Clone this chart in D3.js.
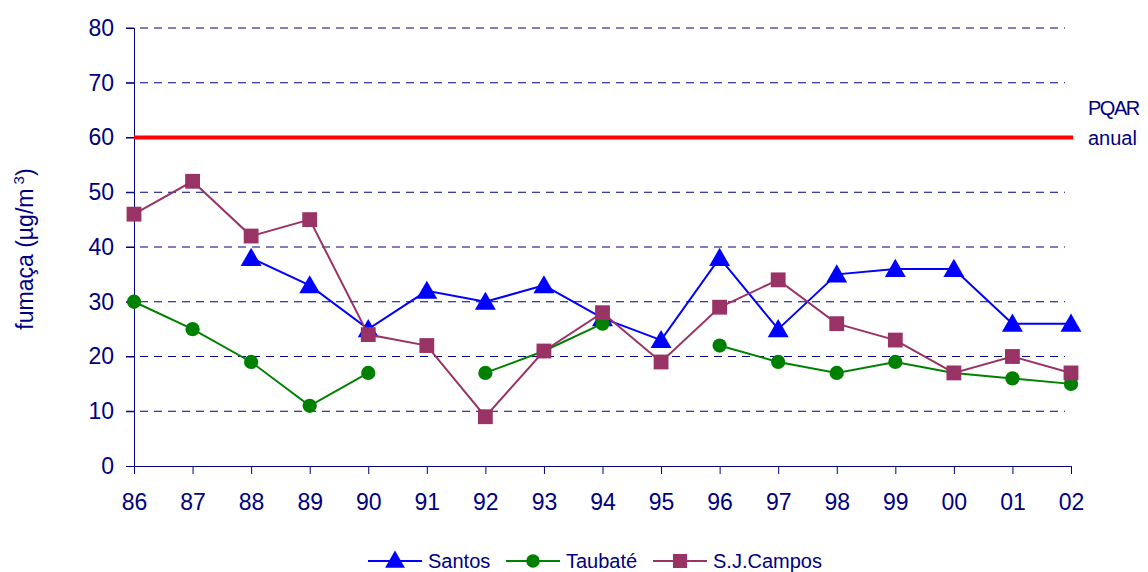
<!DOCTYPE html>
<html>
<head>
<meta charset="utf-8">
<script src="https://cdn.jsdelivr.net/npm/d3@7"></script>
<style>
  body { margin: 0; background: #fff; }
  svg { display: block; font-family: "Liberation Sans", Arial, sans-serif; }
</style>
</head>
<body>
<script>
// data
var years = ["86","87","88","89","90","91","92","93","94","95","96","97","98","99","00","01","02"];
var santos   = [null, null, 38, 33, 25, 32, 30, 33, 27, 23, 38, 25, 35, 36, 36, 26, 26];
var taubate  = [30, 25, 19, 11, 17, null, 17, 21, 26, null, 22, 19, 17, 19, 17, 16, 15];
var sjcampos = [46, 52, 42, 45, 24, 22, 9, 21, 28, 19, 29, 34, 26, 23, 17, 20, 17];
var yTicks = [0, 10, 20, 30, 40, 50, 60, 70, 80];
var pqar = 60;

var W = 1148, H = 572;
var margin = {top: 28, left: 134};
var width = 1071 - margin.left, height = 466 - margin.top;
var navy = "#000080";

var svg = d3.select("body").append("svg")
    .attr("width", W)
    .attr("height", H);

svg.append("rect").attr("width", W).attr("height", H).attr("fill", "#fff");

var g = svg.append("g")
    .attr("transform", "translate(" + margin.left + "," + margin.top + ")");

var x = d3.scalePoint().domain(years).range([0, width]);
var y = d3.scaleLinear().domain([0, 80]).range([height, 0]);

// gridlines (dashed)
g.selectAll(".grid")
    .data(yTicks.filter(function(d) { return d > 0; }))
  .enter().append("line")
    .attr("x1", -8).attr("x2", width - 6)
    .attr("y1", function(d) { return y(d); })
    .attr("y2", function(d) { return y(d); })
    .attr("stroke", navy)
    .attr("stroke-width", 1)
    .attr("stroke-dasharray", "8,6");

// y axis
var yAxis = g.append("g")
    .call(d3.axisLeft(y).tickValues(yTicks).tickSize(8).tickPadding(12));
yAxis.select(".domain").attr("stroke", navy).attr("d", "M0.5," + y(0) + "V" + y(80));
yAxis.selectAll(".tick line").attr("stroke", navy);
yAxis.selectAll(".tick text")
    .attr("fill", navy)
    .attr("font-size", "23px")
    .attr("font-family", "Liberation Sans, Arial, sans-serif");

// x axis
var xAxis = g.append("g")
    .attr("transform", "translate(0," + height + ")")
    .call(d3.axisBottom(x).tickSize(8).tickPadding(20));
xAxis.select(".domain").attr("stroke", navy).attr("d", "M0," + 0.5 + "H" + width);
xAxis.selectAll(".tick line").attr("stroke", navy).attr("y1", 0);
xAxis.selectAll(".tick text")
    .attr("fill", navy)
    .attr("font-size", "23px")
    .attr("font-family", "Liberation Sans, Arial, sans-serif");

// PQAR line
g.append("line")
    .attr("x1", 0).attr("x2", width + 2)
    .attr("y1", y(pqar)).attr("y2", y(pqar))
    .attr("stroke", "#ff0000")
    .attr("stroke-width", 4);

g.append("text")
    .attr("x", width + 17).attr("y", y(pqar) - 23)
    .attr("fill", navy).attr("font-size", "20px")
    .attr("letter-spacing", "-1.5px")
    .text("PQAR");
g.append("text")
    .attr("x", width + 17).attr("y", y(pqar) + 7)
    .attr("fill", navy).attr("font-size", "20px")
    .text("anual");

// y axis label
var ylab = svg.append("text")
    .attr("transform", "translate(33," + 249 + ") rotate(-90)")
    .attr("text-anchor", "middle")
    .attr("fill", navy)
    .attr("font-size", "23px");
ylab.append("tspan").text("fumaça (µg/m");
ylab.append("tspan").attr("dy", "-9").attr("font-size", "15px").text(" 3");
ylab.append("tspan").attr("dy", "9").text(")");

var series = [
  {name: "Santos", values: santos, color: "#0000ff", shape: d3.symbolTriangle, size: 190},
  {name: "Taubaté", values: taubate, color: "#008000", shape: d3.symbolCircle, size: 160},
  {name: "S.J.Campos", values: sjcampos, color: "#993366", shape: d3.symbolSquare, size: 220}
];

var line = d3.line()
    .defined(function(d) { return d.v != null; })
    .x(function(d) { return x(d.year); })
    .y(function(d) { return y(d.v); });

series.forEach(function(s) {
  var pts = years.map(function(yr, i) { return {year: yr, v: s.values[i]}; });
  g.append("path")
      .datum(pts)
      .attr("fill", "none")
      .attr("stroke", s.color)
      .attr("stroke-width", 2)
      .attr("d", line);
  g.selectAll(null)
      .data(pts.filter(function(d) { return d.v != null; }))
    .enter().append("path")
      .attr("d", d3.symbol().type(s.shape).size(s.size))
      .attr("transform", function(d) {
        var dy = s.shape === d3.symbolTriangle ? 2 : 0;
        return "translate(" + x(d.year) + "," + (y(d.v) + dy) + ")";
      })
      .attr("fill", s.color);
});

// legend
var legX = [368, 506, 653];
var legend = svg.append("g").attr("transform", "translate(0,561)");
series.forEach(function(s, i) {
  var lg = legend.append("g").attr("transform", "translate(" + legX[i] + ",0)");
  lg.append("line").attr("x1", 0).attr("x2", 54).attr("y1", 0).attr("y2", 0)
    .attr("stroke", s.color).attr("stroke-width", 2);
  lg.append("path")
    .attr("d", d3.symbol().type(s.shape).size(s.size * 0.9))
    .attr("transform", "translate(27," + (s.shape === d3.symbolTriangle ? 1 : 0) + ")")
    .attr("fill", s.color);
  lg.append("text").attr("x", 60).attr("y", 7)
    .attr("fill", navy).attr("font-size", "20px")
    .text(s.name);
});
</script>
</body>
</html>
